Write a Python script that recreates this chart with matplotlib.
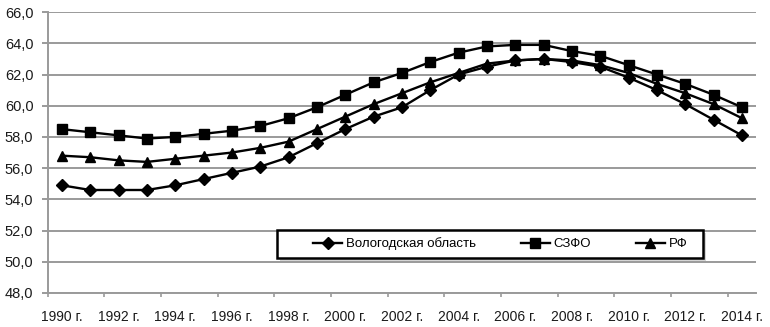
import matplotlib
matplotlib.use("Agg")
import matplotlib.pyplot as plt
from matplotlib.patches import Rectangle

years = list(range(1990, 2015))
vologda = [54.9, 54.6, 54.6, 54.6, 54.9, 55.3, 55.7, 56.1, 56.7, 57.6, 58.5, 59.3, 59.9,
           61.0, 62.0, 62.5, 62.9, 63.0, 62.8, 62.5, 61.8, 61.0, 60.1, 59.1, 58.1]
szfo = [58.5, 58.3, 58.1, 57.9, 58.0, 58.2, 58.4, 58.7, 59.2, 59.9, 60.7, 61.5, 62.1,
        62.8, 63.4, 63.8, 63.9, 63.9, 63.5, 63.2, 62.6, 62.0, 61.4, 60.7, 59.9]
rf = [56.8, 56.7, 56.5, 56.4, 56.6, 56.8, 57.0, 57.3, 57.7, 58.5, 59.3, 60.1, 60.8,
      61.5, 62.1, 62.7, 62.9, 63.0, 62.9, 62.6, 62.1, 61.4, 60.8, 60.1, 59.2]
series_names = ["Вологодская область", "СЗФО", "РФ"]
y_ticks = [48, 50, 52, 54, 56, 58, 60, 62, 64, 66]

plt.rcParams["font.family"] = ["Liberation Sans", "DejaVu Sans"]
plt.rcParams["font.size"] = 9.5

fig = plt.figure(figsize=(7.7, 3.27), dpi=100)
ax = fig.add_axes([0.062, 0.104, 0.920, 0.859])

x = list(range(len(years)))
lw = 1.7
ax.plot(x, vologda, color="black", lw=lw, marker="D", ms=5.8, label=series_names[0], zorder=3)
ax.plot(x, szfo, color="black", lw=lw, marker="s", ms=6.8, label=series_names[1], zorder=3)
ax.plot(x, rf, color="black", lw=lw, marker="^", ms=7.2, label=series_names[2], zorder=3)

ax.set_xlim(-0.5, len(years) - 0.5)
ax.set_ylim(48, 66)
ax.set_yticks(y_ticks)
ax.set_yticklabels([f"{v:.1f}".replace(".", ",") for v in y_ticks], fontsize=10.5)
ax.yaxis.grid(True, color="#9a9a9a", lw=1.4)
ax.set_axisbelow(True)

# category axis: tick marks between categories, labels on categories
ax.set_xticks([i - 0.5 for i in range(0, len(years) + 1, 2)])
ax.set_xticklabels([])
ax.set_xticks(x[::2], minor=True)
ax.set_xticklabels([f"{y} г." for y in years[::2]], minor=True, fontsize=10)
ax.tick_params(axis="x", which="major", length=3, width=1.2, color="#9a9a9a")
ax.tick_params(axis="x", which="minor", length=0, pad=12, labelcolor="#1a1a1a")
ax.tick_params(axis="y", length=4.3, width=1.4, color="#9a9a9a", pad=6, labelcolor="#1a1a1a")

for s in ["top", "right"]:
    ax.spines[s].set_visible(False)
for s in ["left", "bottom"]:
    ax.spines[s].set_color("#9a9a9a")
    ax.spines[s].set_linewidth(1.4)

# legend box
bx0, by0, bw, bh = 0.324, 0.1246, 0.601, 0.0996
ax.add_patch(Rectangle((bx0 + 0.004, by0 - 0.010), bw, bh, transform=ax.transAxes,
                       facecolor="#d5d5d5", edgecolor="none", zorder=4))
ax.add_patch(Rectangle((bx0, by0), bw, bh, transform=ax.transAxes,
                       facecolor="white", edgecolor="black", lw=1.8, zorder=5))
leg = ax.legend(loc="center", bbox_to_anchor=(0.375, by0, 0.528, bh), mode="expand",
                ncol=3, frameon=False, handlelength=2.2, handletextpad=0.3,
                borderpad=0.0, borderaxespad=0.0)
leg.set_zorder(6)

fig.savefig("out.png", dpi=100)
